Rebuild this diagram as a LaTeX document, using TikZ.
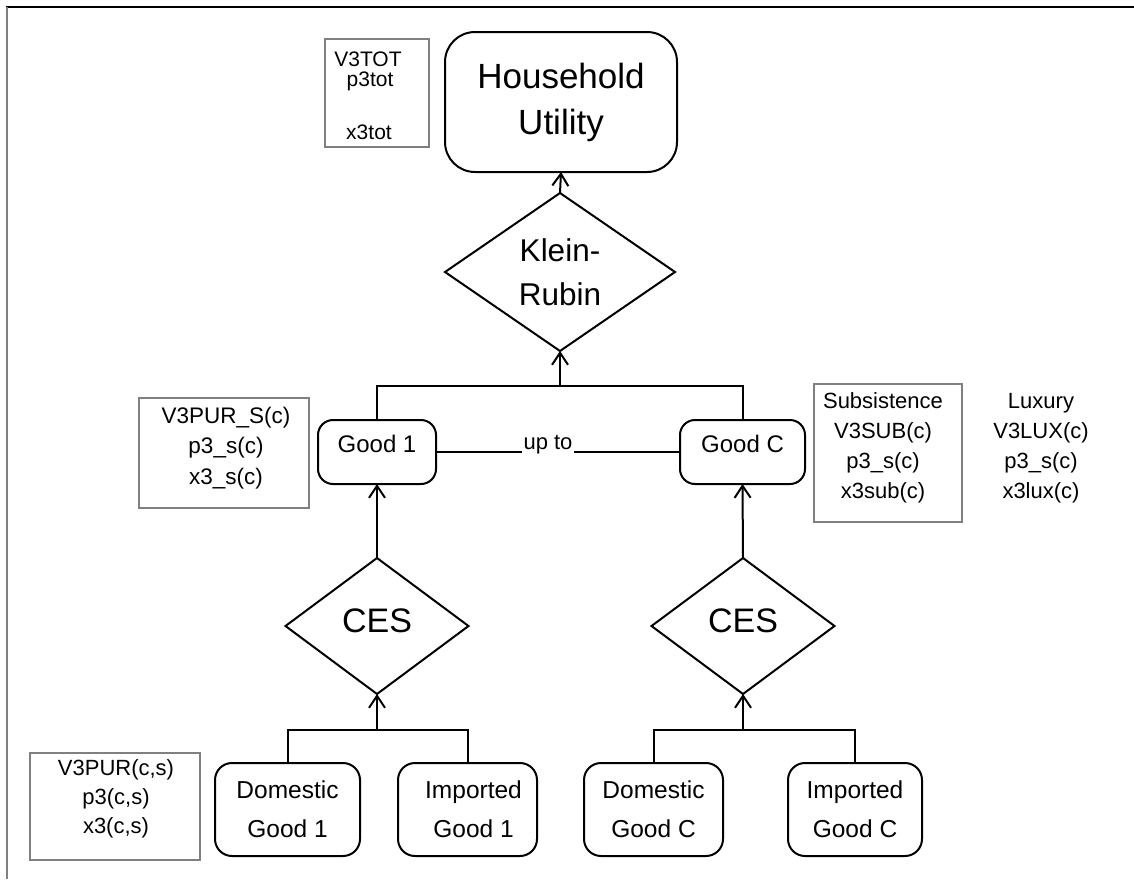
\documentclass[tikz,border=0pt]{standalone}
\usepackage{fontspec}
\setmainfont{Liberation Sans}
\usetikzlibrary{shapes.geometric,arrows.meta}
\definecolor{anngray}{gray}{0.5}
\begin{document}
\begin{tikzpicture}[x=1pt,y=-1pt,
  every node/.style={inner sep=0pt, outer sep=0pt},
  conn/.style={line width=2pt},
  arr/.style={line width=2pt, -{Straight Barb[length=12pt,width=16pt]}},
  rbox/.style={draw, line width=2pt, rounded corners=#1},
  gbox/.style={draw=anngray, line width=1.2pt},
  dia/.style={draw, diamond, line width=2pt},
  ann/.style={font=\fontsize{22}{30}\selectfont, align=center},
  bbox/.style={rbox=17pt, minimum height=93pt, align=center, font=\fontsize{24.5}{39}\selectfont},
]
\useasboundingbox (0,0) rectangle (1134,879);
% frame
\draw[line width=2.5pt] (6,7) -- (1134,7);
\draw[line width=1.5pt, anngray] (7,7) -- (7,879);

% top
\node[rbox=30pt, minimum width=232pt, minimum height=140pt, align=center,
      font=\fontsize{35}{46}\selectfont] (hu) at (561,102) {Household\\Utility};
\node[gbox, minimum width=104pt, minimum height=108pt] (totbox) at (377,93) {};
\node[font=\fontsize{21}{25}\selectfont, anchor=base] (tot1) at (368,66.5) {V3TOT};
\node[font=\fontsize{21}{25}\selectfont, anchor=base] (tot2) at (370,86) {p3tot};
\node[font=\fontsize{21}{25}\selectfont, anchor=base] (tot3) at (369,139.5) {x3tot};

\node[dia, minimum width=230pt, minimum height=158pt, align=center,
      font=\fontsize{31.5}{44}\selectfont] (kr) at (560,272) {Klein-\\Rubin};

% middle
\node[rbox=15pt, minimum width=118pt, minimum height=64pt,
      font=\fontsize{24}{28}\selectfont, text height=10pt, text depth=10pt] (g1) at (377,452) {Good 1\hspace{14pt}};
\node[rbox=15pt, minimum width=125pt, minimum height=64pt,
      font=\fontsize{24}{28}\selectfont, text height=10pt, text depth=10pt] (gC) at (742.5,452) {Good C\hspace{14pt}};
\node[font=\fontsize{22}{26}\selectfont, anchor=base, inner xsep=2pt] (upto) at (548,449) {up to};

\node[gbox, minimum width=170pt, minimum height=110pt] (pursbox) at (224,453) {};
\node[ann, font=\fontsize{22.5}{30.5}\selectfont] (purstxt) at (226,448) {V3PUR\_S(c)\\p3\_s(c)\\x3\_s(c)};

\node[gbox, minimum width=148pt, minimum height=138pt] (subbox) at (888,453) {};
\node[ann] (subtxt) at (883,448) {Subsistence\\V3SUB(c)\\p3\_s(c)\\x3sub(c)};
\node[ann] (luxtxt) at (1041,448) {Luxury\\V3LUX(c)\\p3\_s(c)\\x3lux(c)};

% CES diamonds
\node[dia, minimum width=183pt, minimum height=136pt, font=\fontsize{34}{40}\selectfont,
      text height=25pt, text depth=12.6pt] (ces1) at (377,626) {CES};
\node[dia, minimum width=183pt, minimum height=136pt, font=\fontsize{34}{40}\selectfont,
      text height=25pt, text depth=12.6pt] (ces2) at (743,626) {CES};

% bottom boxes
\node[bbox, minimum width=145pt] (d1) at (287.5,809.5) {Domestic\\Good 1};
\node[bbox, minimum width=139pt] (i1) at (467.5,809.5) {\hspace*{12pt}Imported\\\hspace*{12pt}Good 1};
\node[bbox, minimum width=139pt] (dC) at (653.5,809.5) {Domestic\\Good C};
\node[bbox, minimum width=134pt] (iC) at (855,809.5) {Imported\\Good C};

\node[gbox, minimum width=170pt, minimum height=107pt] (purbox) at (115,806.5) {};
\node[ann, font=\fontsize{22}{29}\selectfont] (purtxt) at (116,799) {V3PUR(c,s)\\p3(c,s)\\x3(c,s)};

% connectors
\coordinate (j1) at (560,386);
\coordinate (j2) at (377,730);
\coordinate (j3) at (743,730);
\draw[arr] (kr.north) -- (hu.south);
\draw[conn] (g1.north) |- (j1) -| (gC.north);
\draw[arr] (j1) -- (kr.south);
\draw[line width=1.3pt] (g1.east) -- (upto.west |- g1.east);
\draw[line width=1.3pt] (upto.east |- gC.west) -- (gC.west);
\draw[arr] (ces1.north) -- (g1.south);
\draw[arr] (ces2.north) -- (gC.south);
\draw[conn] (d1.north) |- (j2) -| (i1.north);
\draw[arr] (j2) -- (ces1.south);
\draw[conn] (dC.north) |- (j3) -| (iC.north);
\draw[arr] (j3) -- (ces2.south);
\end{tikzpicture}
\end{document}
